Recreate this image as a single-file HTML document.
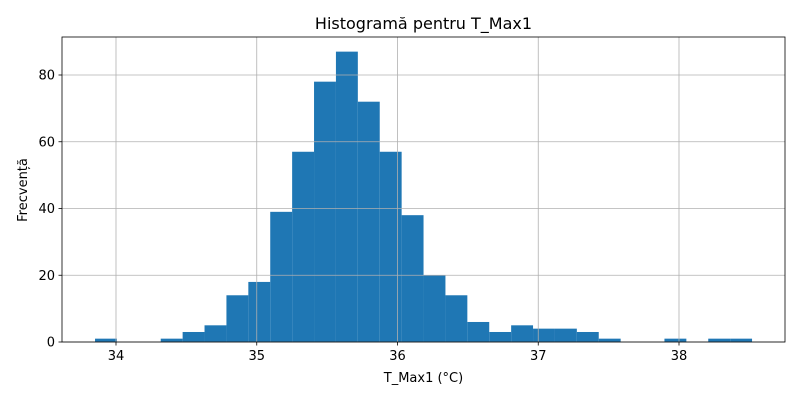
<!DOCTYPE html>
<html><head><meta charset="utf-8"><style>
body{margin:0;background:#fff;font-family:"Liberation Sans","DejaVu Sans",sans-serif}
svg text{font-family:"DejaVu Sans","Liberation Sans",sans-serif}
</style></head><body>
<svg id="chart" width="800" height="400" xmlns="http://www.w3.org/2000/svg">
<rect width="800" height="400" fill="#fff"/>
<text x="423.5" y="29" text-anchor="middle" font-size="16">Histogramă pentru T_Max1</text>
<g id="bars"></g>
<g id="grid"></g>
<g id="axes"></g>
<text x="423.5" y="382" text-anchor="middle" font-size="13">T_Max1 (°C)</text>
<text transform="translate(27,190) rotate(-90)" text-anchor="middle" font-size="13">Frecvență</text>
</svg>
<script>
const binStart = 33.851;
const binWidth = 0.1556;
const counts = [1,0,0,1,3,5,14,18,39,57,78,87,72,57,38,20,14,6,3,5,4,4,3,1,0,0,1,0,1,1];
const xTicks = [34,35,36,37,38];
const yTicks = [0,20,40,60,80];
const L=62,R=785,T=37,B=342;
const xs=v=>116+(v-34)*140.75;
const ys=v=>B-v*3.3375;
const NS="http://www.w3.org/2000/svg";
function mk(tag,attrs,parent){const e=document.createElementNS(NS,tag);for(const k in attrs)e.setAttribute(k,attrs[k]);parent.appendChild(e);return e;}
const bars=document.getElementById('bars'),grid=document.getElementById('grid'),axes=document.getElementById('axes');
counts.forEach((c,i)=>{if(c<=0)return;const x0=xs(binStart+i*binWidth),x1=xs(binStart+(i+1)*binWidth);
const r=mk('rect',{x:x0,y:ys(c),width:x1-x0,height:B-ys(c),fill:'#1f77b4'},bars);

});
xTicks.forEach(t=>{const x=xs(t);
const g=mk('line',{x1:x,x2:x,y1:T,y2:B,stroke:'#b0b0b0','stroke-width':0.8},grid);


mk('line',{x1:x,x2:x,y1:B,y2:B+3.5,stroke:'#000','stroke-width':0.8},axes);
const tx=mk('text',{x:x,y:B+18,'text-anchor':'middle','font-size':13},axes);tx.textContent=t;

});
yTicks.forEach(t=>{const y=ys(t);
const g=mk('line',{x1:L,x2:R,y1:y,y2:y,stroke:'#b0b0b0','stroke-width':0.8},grid);


mk('line',{x1:L-3.5,x2:L,y1:y,y2:y,stroke:'#000','stroke-width':0.8},axes);
const tx=mk('text',{x:L-7,y:y+4.5,'text-anchor':'end','font-size':13},axes);tx.textContent=t;

});
const f=mk('rect',{x:L,y:T,width:R-L,height:B-T,fill:'none',stroke:'#000','stroke-width':0.8},axes);


</script>
</body></html>
